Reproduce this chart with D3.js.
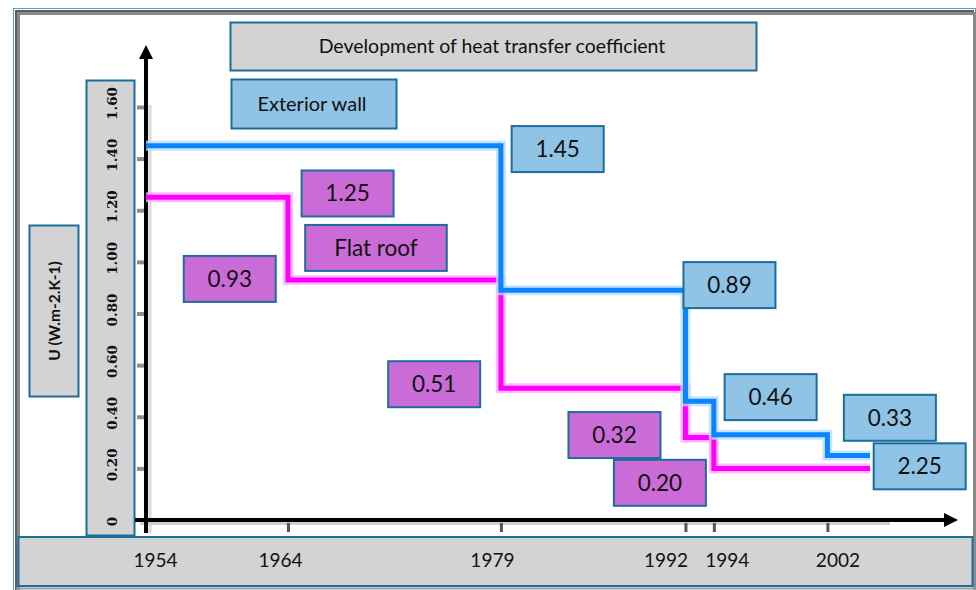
<!DOCTYPE html>
<html>
<head>
<meta charset="utf-8">
<script src="https://cdn.jsdelivr.net/npm/d3@7"></script>
<style>
  html, body { margin: 0; padding: 0; background: #fff; }
  svg { display: block; }
</style>
</head>
<body>
<script>
// ---------------- data ----------------
const chartTitle = "Development of heat transfer coefficient";
const yTitle = "U (W.m-2.K-1)";
const tickYears = [1954, 1964, 1979, 1992, 1994, 2002];
const yTicks = [0, 0.2, 0.4, 0.6, 0.8, 1.0, 1.2, 1.4, 1.6];

const wallName = "Exterior wall";
const wallYears = [1954, 1979, 1992, 1994, 2002, 2005];
const wallU     = [1.45, 0.89, 0.46, 0.33, 0.25, 0.25];

const roofName = "Flat roof";
const roofYears = [1954, 1964, 1979, 1992, 1994, 2005];
const roofU     = [1.25, 0.93, 0.51, 0.32, 0.20, 0.20];

// value call-outs (text as printed in the figure) and their anchor in data units
const wallLabels  = ["1.45", "0.89", "0.46", "0.33", "2.25"];
const wallLabelAt = [[1983.0, 1.437], [1995.1, 0.910], [1998.0, 0.476], [2006.4, 0.396], [2008.5, 0.208]];
const roofLabels  = ["1.25", "0.93", "0.51", "0.32", "0.20"];
const roofLabelAt = [[1968.2, 1.265], [1959.9, 0.934], [1974.3, 0.526], [1987.0, 0.329], [1990.2, 0.144]];
const roofNameAt  = [1970.2, 1.054];

// ---------------- layout ----------------
const W = 976, H = 590;
const C = {
  blue: "#0a84ff", blueHalo: "#b8dcff",
  pink: "#ff00ff", pinkHalo: "#ffaaff",
  boxBlue: "#8fc4e7", boxPink: "#cb6bd7", boxGray: "#d3d3d3",
  edge: "#1b6e9c"
};
const FONT = "Lato, 'Open Sans', sans-serif";
// horizontal nudges of the year labels inside the bottom band (px)
const yearLabelNudge = {1954: 9, 1964: -8, 1979: -9, 1992: -20, 1994: 13, 2002: 10};

const svg = d3.select("body").append("svg").attr("width", W).attr("height", H);
svg.append("rect").attr("width", W).attr("height", H).attr("fill", "#fff");

const x = d3.scaleLinear().domain([1954, 2005]).range([146, 870]);
const y = d3.scaleLinear().domain([0, 1.6]).range([520, 107]);

// frame
svg.append("rect").attr("x", 13.5).attr("y", 8.5).attr("width", 962).attr("height", 590)
  .attr("fill", "none").attr("stroke", "#5b9bd5").attr("stroke-width", 1);
svg.append("path").attr("d", `M17.5,${H} V12.5 H974`)
  .attr("fill", "none").attr("stroke", "#8a8a8a").attr("stroke-width", 5);
svg.append("path").attr("d", `M16,${H} V11 H974`)
  .attr("fill", "none").attr("stroke", "#5e5e5e").attr("stroke-width", 2);
svg.append("line").attr("x1", 974.5).attr("x2", 974.5).attr("y1", 12).attr("y2", H)
  .attr("stroke", "#8a8a8a").attr("stroke-width", 3);
svg.append("line").attr("x1", 16).attr("x2", 976).attr("y1", 588.5).attr("y2", 588.5)
  .attr("stroke", "#9a9a9a").attr("stroke-width", 2);

function box(g, x0, y0, w, h, fill) {
  return g.append("rect").attr("x", x0).attr("y", y0).attr("width", w).attr("height", h)
    .attr("fill", fill).attr("stroke", C.edge).attr("stroke-width", 2);
}

// bottom band (x tick labels)
box(svg, 18.5, 537, 954, 49, C.boxGray);
// y tick label column
box(svg, 86.5, 80.5, 48, 455, C.boxGray);
// y title box
const yt = svg.append("g");
box(yt, 29.5, 225.5, 49, 171, C.boxGray);
yt.append("text").attr("transform", `translate(${54.5},${311}) rotate(-90)`)
  .attr("text-anchor", "middle").attr("dy", "0.35em")
  .attr("font-family", FONT).attr("font-weight", "bold").attr("font-size", 15.5)
  .attr("fill", "#111").text(yTitle);

// title box
const tg = svg.append("g");
box(tg, 230.5, 22.5, 526, 48, C.boxGray);
tg.append("text").attr("x", 492).attr("y", 46.5).attr("dy", "0.35em").attr("text-anchor", "middle")
  .attr("font-family", FONT).attr("font-size", 19.5).attr("fill", "#111").text(chartTitle);

// Exterior wall legend box
const lg = svg.append("g");
box(lg, 231.5, 79.5, 165, 49, C.boxBlue);
lg.append("text").attr("x", 312).attr("y", 104).attr("dy", "0.35em").attr("text-anchor", "middle")
  .attr("font-family", FONT).attr("font-size", 20).attr("fill", "#111").text(wallName);

// axis shadows
svg.append("line").attr("x1", 150).attr("x2", 150).attr("y1", 105).attr("y2", 533)
  .attr("stroke", "#d9d9d9").attr("stroke-width", 3);
svg.append("line").attr("x1", 140).attr("x2", 890).attr("y1", 523.5).attr("y2", 523.5)
  .attr("stroke", "#d0d0d0").attr("stroke-width", 3);

// y axis (ticks + labels)
const yAxis = d3.axisLeft(y).tickValues(yTicks).tickSize(9)
  .tickFormat(d => d === 0 ? "0" : d3.format(".2f")(d));
const gy = svg.append("g").attr("transform", `translate(${x(1954)},0)`).call(yAxis)
  .attr("font-family", "'DejaVu Serif', serif").attr("font-size", 13.5);
gy.select(".domain").remove();
gy.selectAll(".tick line").attr("stroke", "#8c8c8c").attr("stroke-width", 4)
  .filter(d => d === 0).remove();
gy.selectAll(".tick text")
  .attr("x", null).attr("dy", null)
  .attr("transform", d => `translate(-34,${d === 0 ? 1 : -4}) rotate(-90)`)
  .attr("text-anchor", "middle").attr("dominant-baseline", "central")
  .attr("font-weight", "bold").attr("fill", "#111");

// x axis (ticks + labels)
const xAxis = d3.axisBottom(x).tickValues(tickYears).tickSize(12).tickPadding(22).tickFormat(d3.format("d"));
const gx = svg.append("g").attr("transform", `translate(0,${y(0)})`).call(xAxis)
  .attr("font-family", FONT).attr("font-size", 19);
gx.select(".domain").remove();
gx.selectAll(".tick line").attr("y1", 3).attr("stroke", "#555").attr("stroke-width", 3)
  .filter(d => d === 1954).remove();
gx.selectAll(".tick text").attr("dx", d => yearLabelNudge[d] || 0).attr("fill", "#111");

// axis lines with arrows
const ax0 = x(1954), ay0 = y(0);
svg.append("line").attr("x1", ax0).attr("x2", ax0).attr("y1", 533).attr("y2", 56)
  .attr("stroke", "#000").attr("stroke-width", 4);
svg.append("path").attr("d", `M${ax0},45 L${ax0 - 7},59 L${ax0 + 7},59 Z`).attr("fill", "#000");
svg.append("line").attr("x1", 135).attr("x2", 947).attr("y1", ay0).attr("y2", ay0)
  .attr("stroke", "#000").attr("stroke-width", 4);
svg.append("path").attr("d", `M958,${ay0} L944,${ay0 - 7} L944,${ay0 + 7} Z`).attr("fill", "#000");

// step lines
const line = d3.line().x(d => x(d[0])).y(d => y(d[1])).curve(d3.curveStepAfter);
function drawStep(yrs, vals, col, halo) {
  const pts = yrs.map((t, i) => [t, vals[i]]);
  const g = svg.append("g").attr("fill", "none").attr("stroke-linejoin", "miter").attr("stroke-linecap", "butt");
  g.append("path").attr("d", line(pts)).attr("stroke", halo).attr("stroke-width", 10).attr("opacity", 0.8);
  g.append("path").attr("d", line(pts)).attr("stroke", col).attr("stroke-width", 5);
}
drawStep(roofYears, roofU, C.pink, C.pinkHalo);
drawStep(wallYears, wallU, C.blue, C.blueHalo);

// call-out boxes
function callout(text, at, fill, wide) {
  const g = svg.append("g");
  const cx = x(at[0]), cy = y(at[1]);
  const t = g.append("text").attr("x", cx).attr("y", cy).attr("dy", "0.35em").attr("text-anchor", "middle")
    .attr("font-family", FONT).attr("font-size", 22.5).attr("fill", "#111").text(text);
  const w = wide ? t.node().getComputedTextLength() + 58 : 92;
  const h = 46;
  g.insert("rect", "text").attr("x", cx - w / 2).attr("y", cy - h / 2).attr("width", w).attr("height", h)
    .attr("fill", fill).attr("stroke", C.edge).attr("stroke-width", 2);
}
wallLabels.forEach((s, i) => callout(s, wallLabelAt[i], C.boxBlue, false));
roofLabels.forEach((s, i) => callout(s, roofLabelAt[i], C.boxPink, false));
callout(roofName, roofNameAt, C.boxPink, true);
</script>
</body>
</html>
